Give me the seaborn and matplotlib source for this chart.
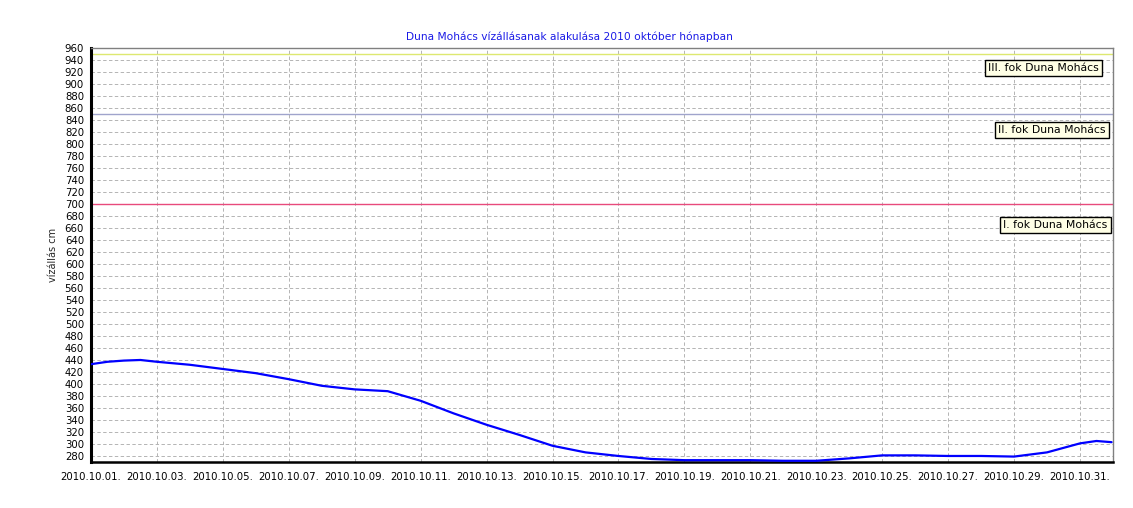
import matplotlib
matplotlib.use("Agg")
import matplotlib.pyplot as plt
import matplotlib.dates as mdates
import seaborn as sns
import pandas as pd

# ---- data ----
times = ["2010-10-01 00:00", "2010-10-01 12:00", "2010-10-02 00:00", "2010-10-02 12:00",
         "2010-10-03 00:00", "2010-10-04 00:00", "2010-10-05 00:00", "2010-10-06 00:00",
         "2010-10-07 00:00", "2010-10-08 00:00", "2010-10-09 00:00", "2010-10-10 00:00",
         "2010-10-11 00:00", "2010-10-12 00:00", "2010-10-13 00:00", "2010-10-14 00:00",
         "2010-10-15 00:00", "2010-10-16 00:00", "2010-10-17 00:00", "2010-10-18 00:00",
         "2010-10-19 00:00", "2010-10-20 00:00", "2010-10-21 00:00", "2010-10-22 00:00",
         "2010-10-23 00:00", "2010-10-24 00:00", "2010-10-25 00:00", "2010-10-26 00:00",
         "2010-10-27 00:00", "2010-10-28 00:00", "2010-10-29 00:00", "2010-10-30 00:00",
         "2010-10-31 00:00", "2010-10-31 12:00", "2010-10-31 23:00"]
levels = [433, 437, 439, 440,
          437, 432, 425, 418,
          408, 397, 391, 388,
          372, 351, 332, 315,
          297, 286, 280, 275,
          273, 273, 273, 272,
          272, 276, 281, 281,
          280, 280, 279, 286,
          301, 305, 303]

thresholds = [950, 850, 700]
threshold_labels = ["III. fok Duna Mohács", "II. fok Duna Mohács", "I. fok Duna Mohács"]
threshold_colors = ["#dde870", "#a0a4cc", "#e84a7c"]
label_levels = [927, 823, 665]

title = "Duna Mohács vízállásanak alakulása 2010 október hónapban"
ylabel = "vízállás cm"

df = pd.DataFrame({"time": pd.to_datetime(times), "level": levels})

sns.set_style("white")
plt.rcParams["font.family"] = ["DejaVu Sans"]

fig = plt.figure(figsize=(11.33, 5.08), dpi=100)
ax = fig.add_axes([0.0803, 0.0906, 0.9020, 0.8149])

start = pd.Timestamp("2010-10-01 00:00")
end = pd.Timestamp("2010-11-01 00:00")

for val, col in zip(thresholds, threshold_colors):
    ax.axhline(val, color=col, lw=1.0, zorder=2)

sns.lineplot(data=df, x="time", y="level", ax=ax, color="#0000ff", lw=1.6, zorder=3)

ax.set_xlim(start, end)
ax.set_ylim(270, 960)
ax.set_yticks(range(280, 961, 20))
ticks = pd.date_range("2010-10-01", "2010-10-31", freq="2D")
ax.set_xticks(ticks)
ax.xaxis.set_major_formatter(mdates.DateFormatter("%Y.%m.%d."))

ax.grid(True, color="#b4b4b4", ls=(0, (3.5, 2.5)), lw=0.7, zorder=1)
ax.tick_params(axis="both", labelsize=7.3, length=3, width=0.8, colors="black", pad=2)
ax.tick_params(axis="x", pad=4)

ax.set_xlabel("")
ax.set_ylabel(ylabel, fontsize=7, labelpad=5)

for side in ["top", "right"]:
    ax.spines[side].set_color("#808080")
    ax.spines[side].set_linewidth(1.0)
ax.spines["left"].set_color("black")
ax.spines["left"].set_linewidth(2.2)
ax.spines["bottom"].set_color("black")
ax.spines["bottom"].set_linewidth(1.8)

label_x = [0.9865, 0.9925, 0.9945]
for lvl, txt, lx in zip(label_levels, threshold_labels, label_x):
    ax.text(lx, lvl, txt, transform=ax.get_yaxis_transform(), ha="right", va="center",
            fontsize=7.8, color="black", zorder=5,
            bbox=dict(boxstyle="square,pad=0.3", fc="#ffffe6", ec="black", lw=1.0))

fig.text(0.5025, 0.927, title, ha="center", va="center", fontsize=7.7, color="#1a1ae6")

fig.savefig("out.png", dpi=100)
